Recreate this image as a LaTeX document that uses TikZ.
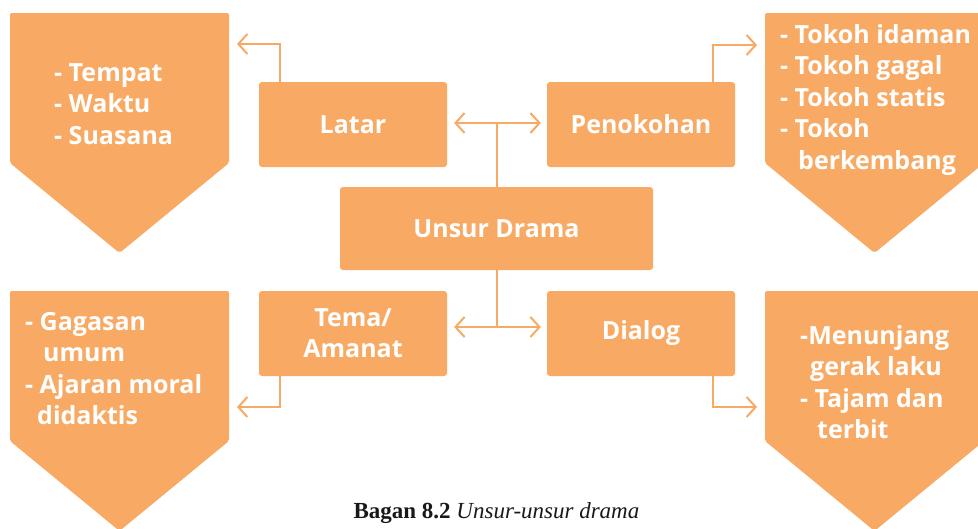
\documentclass[tikz,border=0pt]{standalone}
\usepackage{fontspec}
\setmainfont{Open Sans}
\newfontfamily\capfont{Liberation Serif}
\usepackage{tikz}
\usetikzlibrary{arrows.meta, calc, positioning}
\usepackage{xcolor}
\definecolor{oranye}{RGB}{248,170,100}

\begin{document}
\begin{tikzpicture}[x=1pt,y=-1pt,
        kotak/.style={
            fill=oranye,
            rounded corners=3pt,
            minimum width=188pt,
            minimum height=85pt,
            inner sep=0pt,
            text=white,
            align=center,
            font=\fontsize{25}{31}\selectfont\bfseries
        },
        isi/.style={anchor=north west, inner sep=0pt, text=white, align=left,
            font=\fontsize{25}{31.5}\selectfont\bfseries},
        garis/.style={draw=oranye, line width=2pt},
        panah/.style={garis, -{Straight Barb[length=9pt,width=20pt]}},
        panahdua/.style={garis, {Straight Barb[length=9pt,width=20pt]}-{Straight Barb[length=9pt,width=20pt]}}
    ]
    \clip (0,0) rectangle (978,528);
    % segi lima
    \fill[oranye, rounded corners=2pt] (10,13) -- (229,13) -- (229,163) -- (119.5,253) -- (10,163) -- cycle;
    \fill[oranye, rounded corners=2pt] (765,13) -- (984,13) -- (984,163) -- (874.5,253) -- (765,163) -- cycle;
    \fill[oranye, rounded corners=2pt] (10,291) -- (229,291) -- (229,441) -- (119.5,531) -- (10,441) -- cycle;
    \fill[oranye, rounded corners=2pt] (765,291) -- (984,291) -- (984,441) -- (874.5,531) -- (765,441) -- cycle;

    \node[isi] (latarIsi) at (54,63) {- Tempat\\- Waktu\\- Suasana};
    \node[isi] (tokohIsi) at (780,24) {- Tokoh idaman\\- Tokoh gagal\\- Tokoh statis\\- Tokoh\\\hspace{18pt}berkembang};
    \node[isi] (temaIsi) at (25,312) {- Gagasan\\\hspace{18pt}umum\\- Ajaran moral\\\hspace{12pt}didaktis};
    \node[isi] (dialogIsi) at (800,325) {-Menunjang\\\hspace{10pt}gerak laku\\- Tajam dan\\\hspace{17pt}terbit};

    % kotak
    \node[kotak] (latar) at (353,124.5) {Latar};
    \node[kotak] (penokohan) at (641,124.5) {Penokohan};
    \node[kotak, minimum width=313pt, minimum height=83pt] (unsur) at (496.5,228.5) {Unsur Drama};
    \node[kotak] (tema) at (353,333.5) {Tema/\\Amanat};
    \node[kotak] (dialog) at (641,333.5) {Dialog};

    % panah
    \coordinate (cabangAtas) at (496.5,123);
    \coordinate (cabangBawah) at (496.5,327);
    \draw[garis] (unsur.north) -- (cabangAtas);
    \draw[garis] (unsur.south) -- (cabangBawah);
    \draw[panahdua] ($(latar.east |- cabangAtas)+(7,0)$) -- ($(penokohan.west |- cabangAtas)+(-6,0)$);
    \draw[panahdua] ($(tema.east |- cabangBawah)+(7,0)$) -- ($(dialog.west |- cabangBawah)+(-6,0)$);

    \coordinate (ujungLatar) at (237,44);
    \coordinate (ujungTokoh) at (757,45);
    \coordinate (ujungTema) at (237,407);
    \coordinate (ujungDialog) at (757,407);
    \draw[panah] ([xshift=21pt]latar.north west) |- (ujungLatar);
    \draw[panah] ([xshift=-22pt]penokohan.north east) |- (ujungTokoh);
    \draw[panah] ([xshift=21pt]tema.south west) |- (ujungTema);
    \draw[panah] ([xshift=-22pt]dialog.south east) |- (ujungDialog);

    \node[anchor=base, inner sep=0pt, text=black!90, font=\capfont\fontsize{23}{25}\selectfont] (judul) at (496.5,518)
        {\textbf{Bagan 8.2} \textit{Unsur-unsur drama}};
\end{tikzpicture}
\end{document}
